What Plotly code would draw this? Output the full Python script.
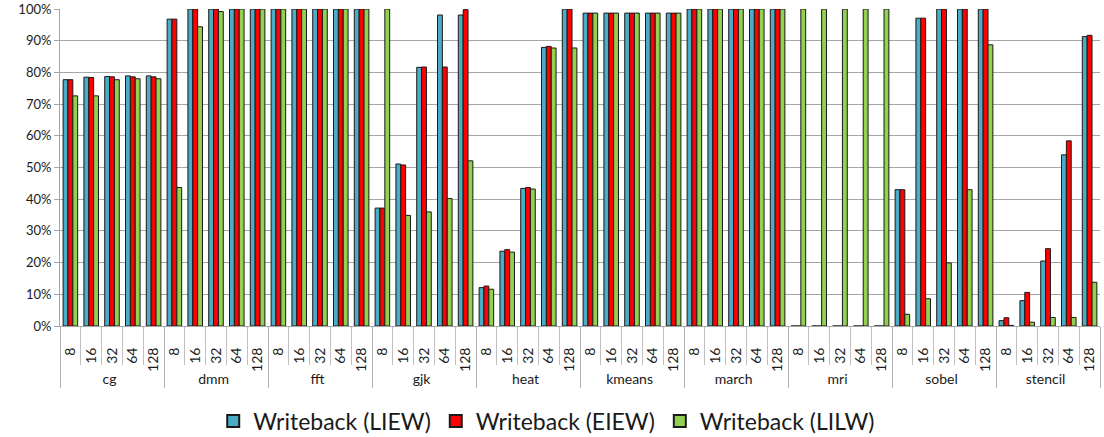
import plotly.graph_objects as go

benchmarks = ["cg", "dmm", "fft", "gjk", "heat", "kmeans", "march", "mri", "sobel", "stencil"]
sizes = ["8", "16", "32", "64", "128"]

liew = [
    77.7, 78.5, 78.7, 78.9, 78.9,   # cg
    96.8, 100, 100, 100, 100,       # dmm
    100, 100, 100, 100, 100,        # fft
    37.2, 51.1, 81.6, 98.1, 98.1,   # gjk
    12.1, 23.6, 43.4, 87.9, 100,    # heat
    98.7, 98.7, 98.7, 98.7, 98.7,   # kmeans
    100, 100, 100, 100, 100,        # march
    0, 0, 0, 0, 0,                  # mri
    43.0, 97.1, 100, 100, 100,      # sobel
    1.7, 8.0, 20.5, 54.0, 91.3,     # stencil
]
eiew = [
    77.7, 78.4, 78.6, 78.6, 78.6,
    96.8, 100, 100, 100, 100,
    100, 100, 100, 100, 100,
    37.2, 50.8, 81.7, 81.7, 99.8,
    12.6, 24.1, 43.7, 88.2, 100,
    98.7, 98.7, 98.7, 98.7, 98.7,
    100, 100, 100, 100, 100,
    0, 0, 0, 0, 0,
    43.0, 97.1, 100, 100, 100,
    2.6, 10.6, 24.4, 58.4, 91.7,
]
lilw = [
    72.6, 72.6, 77.7, 78.0, 78.0,
    43.7, 94.4, 99.2, 100, 100,
    100, 100, 100, 100, 100,
    100, 34.9, 36.0, 40.2, 52.1,
    11.6, 23.3, 43.2, 87.7, 87.7,
    98.7, 98.7, 98.7, 98.7, 98.7,
    100, 100, 100, 100, 100,
    100, 100, 100, 100, 100,
    3.7, 8.6, 19.9, 43.0, 88.7,
    0.2, 1.2, 2.7, 2.7, 13.8,
]

series = [
    ("Writeback (LIEW)", liew, "#4BACC6"),
    ("Writeback (EIEW)", eiew, "#FF0000"),
    ("Writeback (LILW)", lilw, "#92D050"),
]

outer = [b for b in benchmarks for _ in sizes]
inner = [s for _ in benchmarks for s in sizes]

fig = go.Figure()
for name, vals, color in series:
    fig.add_trace(go.Bar(
        x=[outer, inner],
        y=[v / 100 for v in vals],
        name=name,
        marker=dict(color=color, line=dict(color="#1a1a1a", width=1)),
    ))

fig.update_layout(
    width=1104, height=437,
    margin=dict(l=60, r=4, t=9, b=111, autoexpand=False),
    paper_bgcolor="white", plot_bgcolor="white",
    barmode="group", bargap=0.3, bargroupgap=0,
    font=dict(family="Lato, 'Open Sans', sans-serif", color="#1a1a1a", size=13),
    legend=dict(orientation="h", x=0.468, xanchor="center", y=-0.232, yanchor="top",
                font=dict(size=23), itemsizing="constant", traceorder="normal"),
    showlegend=True,
)
fig.update_yaxes(
    range=[0, 1], dtick=0.1, tickformat=".0%",
    showgrid=True, gridcolor="#a6a6a6", gridwidth=1,
    showline=True, linecolor="#a6a6a6", linewidth=1,
    ticks="outside", ticklen=5, tickcolor="#a6a6a6",
    zeroline=False, tickfont=dict(size=13), automargin=False,
)
fig.update_xaxes(
    type="multicategory",
    range=[-0.5, 49.5], autorange=False,
    tickangle=-90,
    showline=True, linecolor="#a6a6a6", linewidth=1,
    ticks="outside", tickson="boundaries", ticklen=38, tickcolor="#c0c0c0",
    ticklabelstandoff=15,
    showdividers=True, dividercolor="#b0b0b0", dividerwidth=1,
    tickfont=dict(size=14), automargin=False,
)

fig.write_html(
    "out.html",
    config={"displayModeBar": False},
    post_script="document.body.style.margin='0';document.body.style.overflow='hidden';",
)
